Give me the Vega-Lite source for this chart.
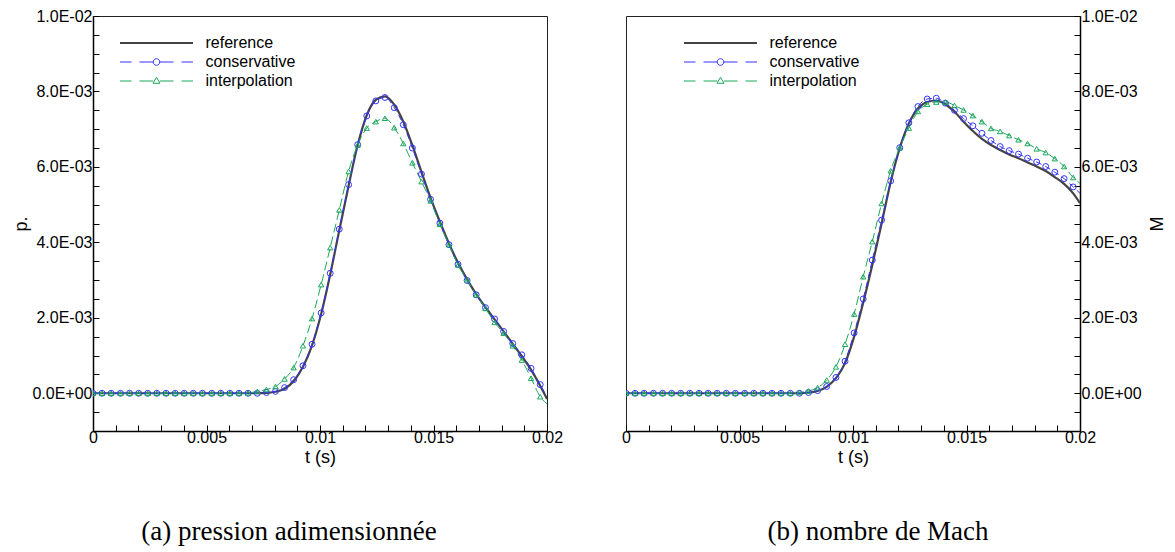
{
  "$schema": "https://vega.github.io/schema/vega-lite/v6.json",
  "background": "white",
  "padding": {"left": 12, "top": 7, "right": 4, "bottom": 0},
  "datasets": {
    "pres": [
      {"t": 0, "reference": 0, "conservative": 0, "interpolation": 0},
      {"t": 0.0004, "reference": 0, "conservative": 0, "interpolation": 0},
      {"t": 0.0008, "reference": 0, "conservative": 0, "interpolation": 0},
      {"t": 0.00121, "reference": 0, "conservative": 0, "interpolation": 0},
      {"t": 0.00161, "reference": 0, "conservative": 0, "interpolation": 0},
      {"t": 0.00201, "reference": 0, "conservative": 0, "interpolation": 0},
      {"t": 0.00241, "reference": 0, "conservative": 0, "interpolation": 0},
      {"t": 0.00281, "reference": 0, "conservative": 0, "interpolation": 0},
      {"t": 0.00322, "reference": 0, "conservative": 0, "interpolation": 0},
      {"t": 0.00362, "reference": 0, "conservative": 0, "interpolation": 0},
      {"t": 0.00402, "reference": 0, "conservative": 0, "interpolation": 0},
      {"t": 0.00442, "reference": 0, "conservative": 0, "interpolation": 0},
      {"t": 0.00482, "reference": 0, "conservative": 0, "interpolation": 0},
      {"t": 0.00523, "reference": 0, "conservative": 0, "interpolation": 0},
      {"t": 0.00563, "reference": 0, "conservative": 0, "interpolation": 0},
      {"t": 0.00603, "reference": 0, "conservative": 0, "interpolation": 0},
      {"t": 0.00643, "reference": 0, "conservative": 0, "interpolation": 0},
      {"t": 0.00683, "reference": 0, "conservative": 0, "interpolation": 0.00001},
      {"t": 0.00724, "reference": 0, "conservative": 0, "interpolation": 0.00005},
      {"t": 0.00764, "reference": 0.00001, "conservative": 0.00002, "interpolation": 0.0001},
      {"t": 0.00804, "reference": 0.00004, "conservative": 0.00005, "interpolation": 0.00018},
      {"t": 0.00844, "reference": 0.00012, "conservative": 0.00015, "interpolation": 0.00038},
      {"t": 0.00884, "reference": 0.00032, "conservative": 0.00036, "interpolation": 0.00068},
      {"t": 0.00925, "reference": 0.0007, "conservative": 0.00073, "interpolation": 0.00126},
      {"t": 0.00965, "reference": 0.00127, "conservative": 0.0013, "interpolation": 0.00198},
      {"t": 0.01005, "reference": 0.0021, "conservative": 0.00213, "interpolation": 0.00288},
      {"t": 0.01045, "reference": 0.00315, "conservative": 0.00318, "interpolation": 0.00386},
      {"t": 0.01085, "reference": 0.00432, "conservative": 0.00435, "interpolation": 0.00486},
      {"t": 0.01126, "reference": 0.0055, "conservative": 0.00553, "interpolation": 0.00588},
      {"t": 0.01166, "reference": 0.00658, "conservative": 0.00659, "interpolation": 0.00658},
      {"t": 0.01206, "reference": 0.00737, "conservative": 0.00735, "interpolation": 0.00703},
      {"t": 0.01246, "reference": 0.00778, "conservative": 0.00775, "interpolation": 0.0072},
      {"t": 0.01286, "reference": 0.00787, "conservative": 0.00784, "interpolation": 0.00729},
      {"t": 0.01327, "reference": 0.00765, "conservative": 0.00757, "interpolation": 0.00704},
      {"t": 0.01367, "reference": 0.0072, "conservative": 0.00712, "interpolation": 0.00662},
      {"t": 0.01407, "reference": 0.00657, "conservative": 0.0065, "interpolation": 0.00611},
      {"t": 0.01447, "reference": 0.00587, "conservative": 0.00581, "interpolation": 0.00561},
      {"t": 0.01487, "reference": 0.00518, "conservative": 0.00514, "interpolation": 0.0051},
      {"t": 0.01528, "reference": 0.00455, "conservative": 0.00451, "interpolation": 0.00448},
      {"t": 0.01568, "reference": 0.00397, "conservative": 0.00394, "interpolation": 0.00394},
      {"t": 0.01608, "reference": 0.00346, "conservative": 0.00342, "interpolation": 0.0034},
      {"t": 0.01648, "reference": 0.00302, "conservative": 0.00299, "interpolation": 0.00301},
      {"t": 0.01688, "reference": 0.00263, "conservative": 0.00261, "interpolation": 0.00261},
      {"t": 0.01729, "reference": 0.00228, "conservative": 0.00227, "interpolation": 0.00225},
      {"t": 0.01769, "reference": 0.00196, "conservative": 0.00197, "interpolation": 0.00188},
      {"t": 0.01809, "reference": 0.00164, "conservative": 0.00164, "interpolation": 0.00159},
      {"t": 0.01849, "reference": 0.00131, "conservative": 0.00132, "interpolation": 0.00126},
      {"t": 0.01889, "reference": 0.00098, "conservative": 0.00102, "interpolation": 0.00088},
      {"t": 0.0193, "reference": 0.00062, "conservative": 0.00066, "interpolation": 0.0004},
      {"t": 0.0197, "reference": 0.0002, "conservative": 0.00023, "interpolation": -0.00009},
      {"t": 0.02, "reference": -0.00015, "conservative": -0.0001, "interpolation": -0.00028}
    ],
    "mach": [
      {"t": 0, "reference": 0, "conservative": 0, "interpolation": 0},
      {"t": 0.0004, "reference": 0, "conservative": 0, "interpolation": 0},
      {"t": 0.0008, "reference": 0, "conservative": 0, "interpolation": 0},
      {"t": 0.00121, "reference": 0, "conservative": 0, "interpolation": 0},
      {"t": 0.00161, "reference": 0, "conservative": 0, "interpolation": 0},
      {"t": 0.00201, "reference": 0, "conservative": 0, "interpolation": 0},
      {"t": 0.00241, "reference": 0, "conservative": 0, "interpolation": 0},
      {"t": 0.00281, "reference": 0, "conservative": 0, "interpolation": 0},
      {"t": 0.00322, "reference": 0, "conservative": 0, "interpolation": 0},
      {"t": 0.00362, "reference": 0, "conservative": 0, "interpolation": 0},
      {"t": 0.00402, "reference": 0, "conservative": 0, "interpolation": 0},
      {"t": 0.00442, "reference": 0, "conservative": 0, "interpolation": 0},
      {"t": 0.00482, "reference": 0, "conservative": 0, "interpolation": 0},
      {"t": 0.00523, "reference": 0, "conservative": 0, "interpolation": 0},
      {"t": 0.00563, "reference": 0, "conservative": 0, "interpolation": 0},
      {"t": 0.00603, "reference": 0, "conservative": 0, "interpolation": 0},
      {"t": 0.00643, "reference": 0, "conservative": 0, "interpolation": 0},
      {"t": 0.00683, "reference": 0, "conservative": 0, "interpolation": 0},
      {"t": 0.00724, "reference": 0, "conservative": 0, "interpolation": 0},
      {"t": 0.00764, "reference": 0, "conservative": 0, "interpolation": 0.00002},
      {"t": 0.00804, "reference": 0.00002, "conservative": 0.00002, "interpolation": 0.00006},
      {"t": 0.00844, "reference": 0.00006, "conservative": 0.00007, "interpolation": 0.00015},
      {"t": 0.00884, "reference": 0.00017, "conservative": 0.00018, "interpolation": 0.00035},
      {"t": 0.00925, "reference": 0.0004, "conservative": 0.00042, "interpolation": 0.0007},
      {"t": 0.00965, "reference": 0.0008, "conservative": 0.00085, "interpolation": 0.0013},
      {"t": 0.01005, "reference": 0.0015, "conservative": 0.0016, "interpolation": 0.0021},
      {"t": 0.01045, "reference": 0.0024, "conservative": 0.0025, "interpolation": 0.00309},
      {"t": 0.01085, "reference": 0.0034, "conservative": 0.00353, "interpolation": 0.00402},
      {"t": 0.01126, "reference": 0.0045, "conservative": 0.00459, "interpolation": 0.00503},
      {"t": 0.01166, "reference": 0.0056, "conservative": 0.00563, "interpolation": 0.0059},
      {"t": 0.01206, "reference": 0.0065, "conservative": 0.00651, "interpolation": 0.00651},
      {"t": 0.01246, "reference": 0.00715, "conservative": 0.00717, "interpolation": 0.00703},
      {"t": 0.01286, "reference": 0.00755, "conservative": 0.0076, "interpolation": 0.00747},
      {"t": 0.01327, "reference": 0.00772, "conservative": 0.0078, "interpolation": 0.00766},
      {"t": 0.01367, "reference": 0.00776, "conservative": 0.00782, "interpolation": 0.00772},
      {"t": 0.01407, "reference": 0.00766, "conservative": 0.00769, "interpolation": 0.00772},
      {"t": 0.01447, "reference": 0.00746, "conservative": 0.0075, "interpolation": 0.00763},
      {"t": 0.01487, "reference": 0.0072, "conservative": 0.00728, "interpolation": 0.00751},
      {"t": 0.01528, "reference": 0.00695, "conservative": 0.00709, "interpolation": 0.00736},
      {"t": 0.01568, "reference": 0.00674, "conservative": 0.00689, "interpolation": 0.0072},
      {"t": 0.01608, "reference": 0.00658, "conservative": 0.0067, "interpolation": 0.00702},
      {"t": 0.01648, "reference": 0.00645, "conservative": 0.00654, "interpolation": 0.00694},
      {"t": 0.01688, "reference": 0.00633, "conservative": 0.00643, "interpolation": 0.00683},
      {"t": 0.01729, "reference": 0.00623, "conservative": 0.00634, "interpolation": 0.00672},
      {"t": 0.01769, "reference": 0.00612, "conservative": 0.00623, "interpolation": 0.00662},
      {"t": 0.01809, "reference": 0.00601, "conservative": 0.00613, "interpolation": 0.00648},
      {"t": 0.01849, "reference": 0.00589, "conservative": 0.00601, "interpolation": 0.00638},
      {"t": 0.01889, "reference": 0.00573, "conservative": 0.00586, "interpolation": 0.00622},
      {"t": 0.0193, "reference": 0.00555, "conservative": 0.00569, "interpolation": 0.00601},
      {"t": 0.0197, "reference": 0.0053, "conservative": 0.00547, "interpolation": 0.00572},
      {"t": 0.02, "reference": 0.00504, "conservative": 0.0053, "interpolation": 0.00556}
    ]
  },
  "config": {
    "view": {"stroke": "#222222", "strokeWidth": 1},
    "font": "Liberation Sans",
    "axis": {
      "grid": false,
      "labelFont": "Liberation Sans", "labelFontSize": 16, "labelColor": "black",
      "titleFont": "Liberation Sans", "titleFontSize": 18, "titleFontWeight": "normal", "titleColor": "black",
      "domainColor": "black", "domainWidth": 1.5,
      "tickColor": "black", "tickWidth": 1, "tickSize": -6,
      "labelFlush": false, "labelOverlap": false, "labelBound": false
    },
    "title": {"orient": "bottom", "anchor": "middle", "font": "Liberation Serif", "fontSize": 27, "fontWeight": "normal", "color": "black", "offset": 53},
    "legend": {
      "orient": "none", "title": null, "padding": 0,
      "labelFont": "Liberation Sans", "labelFontSize": 16, "labelColor": "black",
      "symbolSize": 100, "labelOffset": 41, "rowPadding": 3, "symbolStrokeWidth": 1
    }
  },
  "spacing": 57,
  "resolve": {"legend": {"color": "independent"}},
  "hconcat": [
    {
      "width": 454, "height": 415,
      "title": {"text": "(a) pression adimensionnée", "dx": -31},
      "data": {"name": "pres"},
      "transform": [{"fold": ["reference", "conservative", "interpolation"], "as": ["s", "v"]}],
      "encoding": {
        "x": {"field": "t", "type": "quantitative", "title": "t (s)",
          "scale": {"domain": [0, 0.02], "nice": false, "zero": false},
          "axis": {"values": [0,0.001,0.002,0.003,0.004,0.005,0.006,0.007,0.008,0.009,0.01,0.011,0.012,0.013,0.014,0.015,0.016,0.017,0.018,0.019,0.02],
            "labelExpr": "round(datum.value*10000) % 50 == 0 ? format(datum.value, '~g') : ''",
            "labelPadding": 4, "titlePadding": 3}},
        "y": {"field": "v", "type": "quantitative", "title": "p.",
          "scale": {"domain": [-0.001, 0.01], "nice": false, "zero": false},
          "axis": {"orient": "left",
            "values": [-0.001,-0.0005,0,0.0005,0.001,0.0015,0.002,0.0025,0.003,0.0035,0.004,0.0045,0.005,0.0055,0.006,0.0065,0.007,0.0075,0.008,0.0085,0.009,0.0095,0.01],
            "labelExpr": "abs(datum.value) < 1e-9 ? '0.0E+00' : abs(datum.value-0.002) < 1e-9 ? '2.0E-03' : abs(datum.value-0.004) < 1e-9 ? '4.0E-03' : abs(datum.value-0.006) < 1e-9 ? '6.0E-03' : abs(datum.value-0.008) < 1e-9 ? '8.0E-03' : abs(datum.value-0.01) < 1e-9 ? '1.0E-02' : ''",
            "labelPadding": 7, "titlePadding": 1}},
        "color": {"field": "s", "type": "nominal",
          "scale": {"domain": ["reference", "conservative", "interpolation"], "range": ["#444444", "#3333ff", "#1aa85a"]},
          "legend": {"legendX": 55.5, "legendY": 19,
            "encode": {"symbols": {"update": {
              "shape": {"signal": "datum.value == 'reference' ? 'M-7.3,0H7.3' : datum.value == 'conservative' ? 'M-7.3,0H-5M-3.4,0H-0.66M0.66,0H3.4M5,0H7.3M0.66,0A0.66,0.66,0,1,1,-0.66,0A0.66,0.66,0,1,1,0.66,0' : 'M-7.3,0H-5M-3.4,0H-0.7M0.7,0H3.4M5,0H7.3M0,-0.75L0.7,0.45L-0.7,0.45Z'"},
              "strokeWidth": {"signal": "datum.value == 'reference' ? 2 : 1"},
              "fill": {"value": "transparent"}}}}}}
      },
      "layer": [
        {"transform": [{"filter": "datum.s == 'reference'"}], "mark": {"type": "line", "interpolate": "monotone", "strokeWidth": 2.2, "clip": true}},
        {"transform": [{"filter": "datum.s == 'conservative'"}], "mark": {"type": "line", "interpolate": "monotone", "strokeWidth": 1, "strokeDash": [6, 4], "clip": true}},
        {"transform": [{"filter": "datum.s == 'interpolation'"}], "mark": {"type": "line", "interpolate": "monotone", "strokeWidth": 1, "strokeDash": [9, 4], "clip": true}},
        {"transform": [{"filter": "datum.s == 'conservative' && datum.t < 0.0199"}], "mark": {"type": "point", "shape": "circle", "filled": false, "size": 35, "strokeWidth": 1, "opacity": 1, "clip": true}},
        {"transform": [{"filter": "datum.s == 'interpolation' && datum.t < 0.0199"}], "mark": {"type": "point", "shape": "triangle-up", "filled": false, "size": 28, "strokeWidth": 1, "opacity": 1, "clip": true}}
      ]
    },
    {
      "width": 454, "height": 415,
      "title": {"text": "(b) nombre de Mach", "dx": 25},
      "data": {"name": "mach"},
      "transform": [{"fold": ["reference", "conservative", "interpolation"], "as": ["s", "v"]}],
      "encoding": {
        "x": {"field": "t", "type": "quantitative", "title": "t (s)",
          "scale": {"domain": [0, 0.02], "nice": false, "zero": false},
          "axis": {"values": [0,0.001,0.002,0.003,0.004,0.005,0.006,0.007,0.008,0.009,0.01,0.011,0.012,0.013,0.014,0.015,0.016,0.017,0.018,0.019,0.02],
            "labelExpr": "round(datum.value*10000) % 50 == 0 ? format(datum.value, '~g') : ''",
            "labelPadding": 4, "titlePadding": 3}},
        "y": {"field": "v", "type": "quantitative", "title": "M",
          "scale": {"domain": [-0.001, 0.01], "nice": false, "zero": false},
          "axis": {"orient": "right", "titleAngle": -90,
            "values": [-0.001,-0.0005,0,0.0005,0.001,0.0015,0.002,0.0025,0.003,0.0035,0.004,0.0045,0.005,0.0055,0.006,0.0065,0.007,0.0075,0.008,0.0085,0.009,0.0095,0.01],
            "labelExpr": "abs(datum.value) < 1e-9 ? '0.0E+00' : abs(datum.value-0.002) < 1e-9 ? '2.0E-03' : abs(datum.value-0.004) < 1e-9 ? '4.0E-03' : abs(datum.value-0.006) < 1e-9 ? '6.0E-03' : abs(datum.value-0.008) < 1e-9 ? '8.0E-03' : abs(datum.value-0.01) < 1e-9 ? '1.0E-02' : ''",
            "labelPadding": 7, "titlePadding": 25}},
        "color": {"field": "s", "type": "nominal",
          "scale": {"domain": ["reference", "conservative", "interpolation"], "range": ["#444444", "#3333ff", "#1aa85a"]},
          "legend": {"legendX": 86.5, "legendY": 19,
            "encode": {"symbols": {"update": {
              "shape": {"signal": "datum.value == 'reference' ? 'M-7.3,0H7.3' : datum.value == 'conservative' ? 'M-7.3,0H-5M-3.4,0H-0.66M0.66,0H3.4M5,0H7.3M0.66,0A0.66,0.66,0,1,1,-0.66,0A0.66,0.66,0,1,1,0.66,0' : 'M-7.3,0H-5M-3.4,0H-0.7M0.7,0H3.4M5,0H7.3M0,-0.75L0.7,0.45L-0.7,0.45Z'"},
              "strokeWidth": {"signal": "datum.value == 'reference' ? 2 : 1"},
              "fill": {"value": "transparent"}}}}}}
      },
      "layer": [
        {"transform": [{"filter": "datum.s == 'reference'"}], "mark": {"type": "line", "interpolate": "monotone", "strokeWidth": 2.2, "clip": true}},
        {"transform": [{"filter": "datum.s == 'conservative'"}], "mark": {"type": "line", "interpolate": "monotone", "strokeWidth": 1, "strokeDash": [6, 4], "clip": true}},
        {"transform": [{"filter": "datum.s == 'interpolation'"}], "mark": {"type": "line", "interpolate": "monotone", "strokeWidth": 1, "strokeDash": [9, 4], "clip": true}},
        {"transform": [{"filter": "datum.s == 'conservative' && datum.t < 0.0199"}], "mark": {"type": "point", "shape": "circle", "filled": false, "size": 35, "strokeWidth": 1, "opacity": 1, "clip": true}},
        {"transform": [{"filter": "datum.s == 'interpolation' && datum.t < 0.0199"}], "mark": {"type": "point", "shape": "triangle-up", "filled": false, "size": 28, "strokeWidth": 1, "opacity": 1, "clip": true}}
      ]
    }
  ]
}
